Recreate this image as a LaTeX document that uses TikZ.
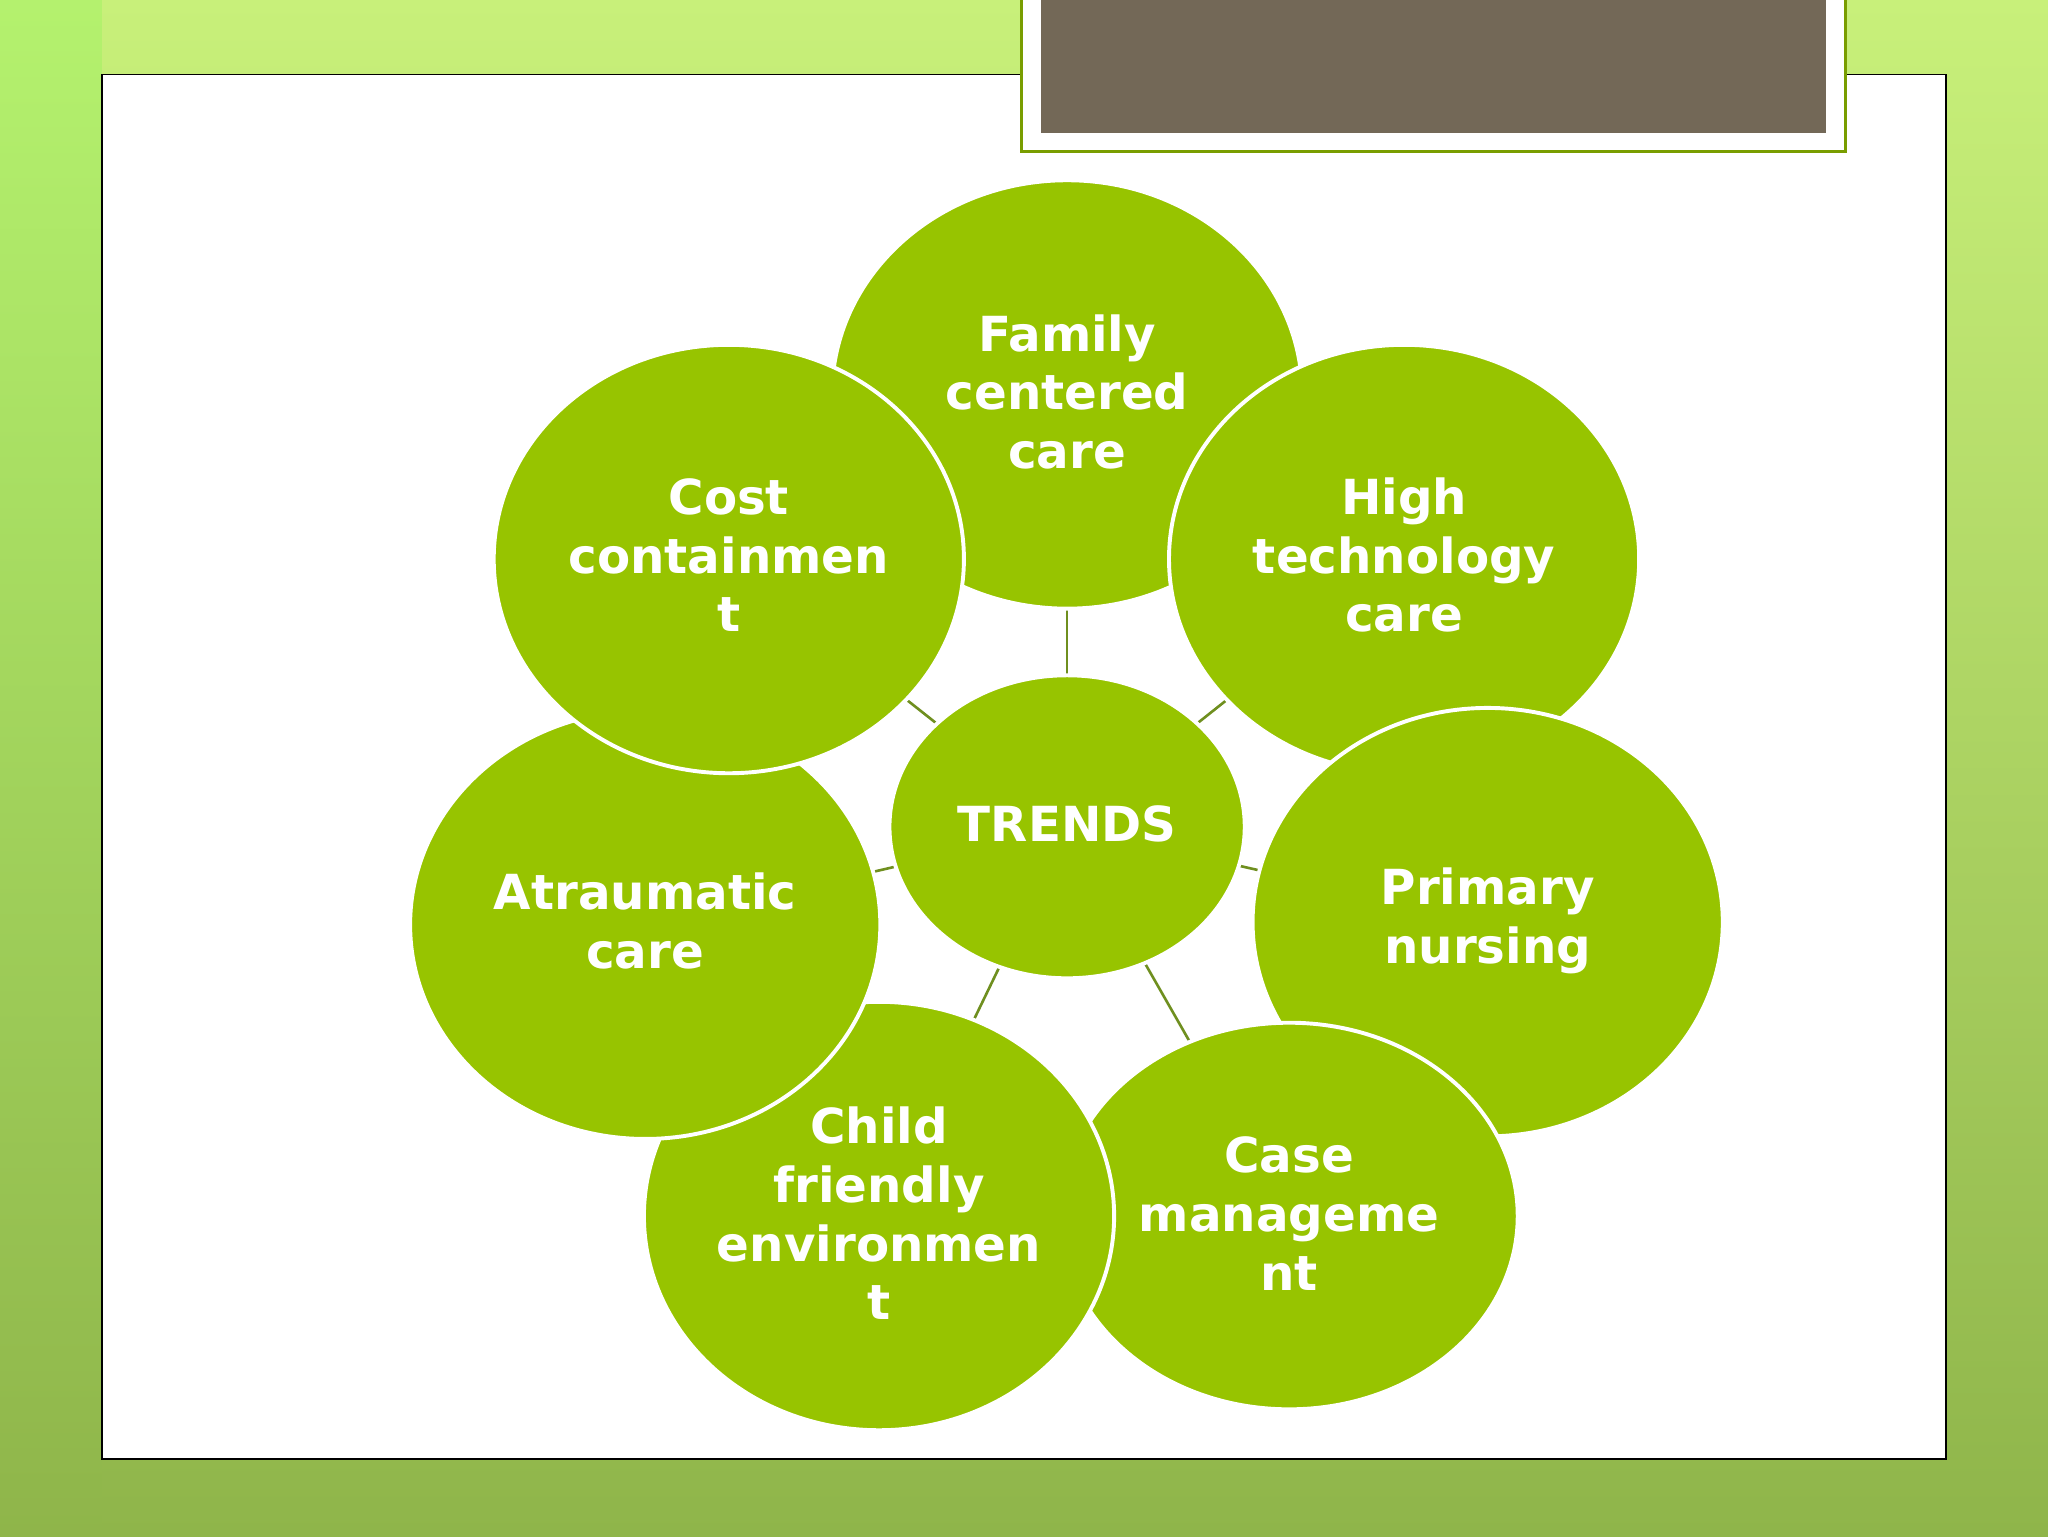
\documentclass[tikz,border=0pt]{standalone}
\usepackage{fontspec}
\setmainfont{DejaVu Sans}
\definecolor{leaf}{HTML}{97C400}
\definecolor{bgtop}{HTML}{C8F07A}
\definecolor{bgbot}{HTML}{8FB54A}
\definecolor{lnk}{HTML}{6F8F1F}
\definecolor{taupe}{HTML}{736857}
\tikzset{
  blob/.style={ellipse, fill=leaf, draw=white, line width=3pt, minimum width=360pt, minimum height=328pt, inner sep=0pt},
  lbl/.style={text=white, font=\fontsize{37}{45}\selectfont\bfseries, align=center},
  lnkline/.style={draw=lnk, line width=2pt}
}
\usetikzlibrary{shapes.geometric}
\begin{document}
\begin{tikzpicture}[x=1pt,y=-1pt]
\useasboundingbox (0,0) rectangle (1568,1176);
\shade[top color=bgtop, bottom color=bgbot] (0,0) rectangle (1568,1176);
\shade[top color=bgtop!90!green, bottom color=bgbot] (0,0) rectangle (78,1176);
\draw[fill=white, draw=black, line width=1pt] (78,57) rectangle (1490,1117);
\draw[fill=white, draw=leaf!80!black, line width=2pt] (782,-2) rectangle (1413,116);
\fill[taupe] (797,0) rectangle (1398,102);
% anchors
\coordinate (cT) at (817,633);
\coordinate (cF) at (817,302);
\coordinate (cH) at (1075,428);
\coordinate (cP) at (1139,706);
\coordinate (cC) at (987,931);
\coordinate (cCh) at (673,931);
\coordinate (cA) at (494,708);
\coordinate (cCo) at (558,428);
\foreach \c in {cF,cH,cP,cC,cCh,cA,cCo} \draw[lnkline] (cT) -- (\c);
\node[blob] (fam) at (cF) {};
\node[blob] (high) at (cH) {};
\node[blob] (prim) at (cP) {};
\node[blob, minimum width=350pt, minimum height=296pt] (case) at (cC) {};
\node[blob] (child) at (cCh) {};
\node[blob] (atr) at (cA) {};
\node[blob] (cost) at (cCo) {};
\node[blob, minimum width=272pt, minimum height=232pt] (trends) at (cT) {};
\node[lbl] at (817,300) {Family\\centered\\care};
\node[lbl] at (1075,425) {High\\technology\\care};
\node[lbl] at (1139,705) {Primary\\nursing};
\node[lbl] at (987,929) {Case\\manageme\\nt};
\node[lbl] at (673,929) {Child\\friendly\\environmen\\t};
\node[lbl] at (494,705) {Atraumatic\\care};
\node[lbl] at (558,425) {Cost\\containmen\\t};
\node[lbl] at (817,631) {TRENDS};
\end{tikzpicture}
\end{document}
